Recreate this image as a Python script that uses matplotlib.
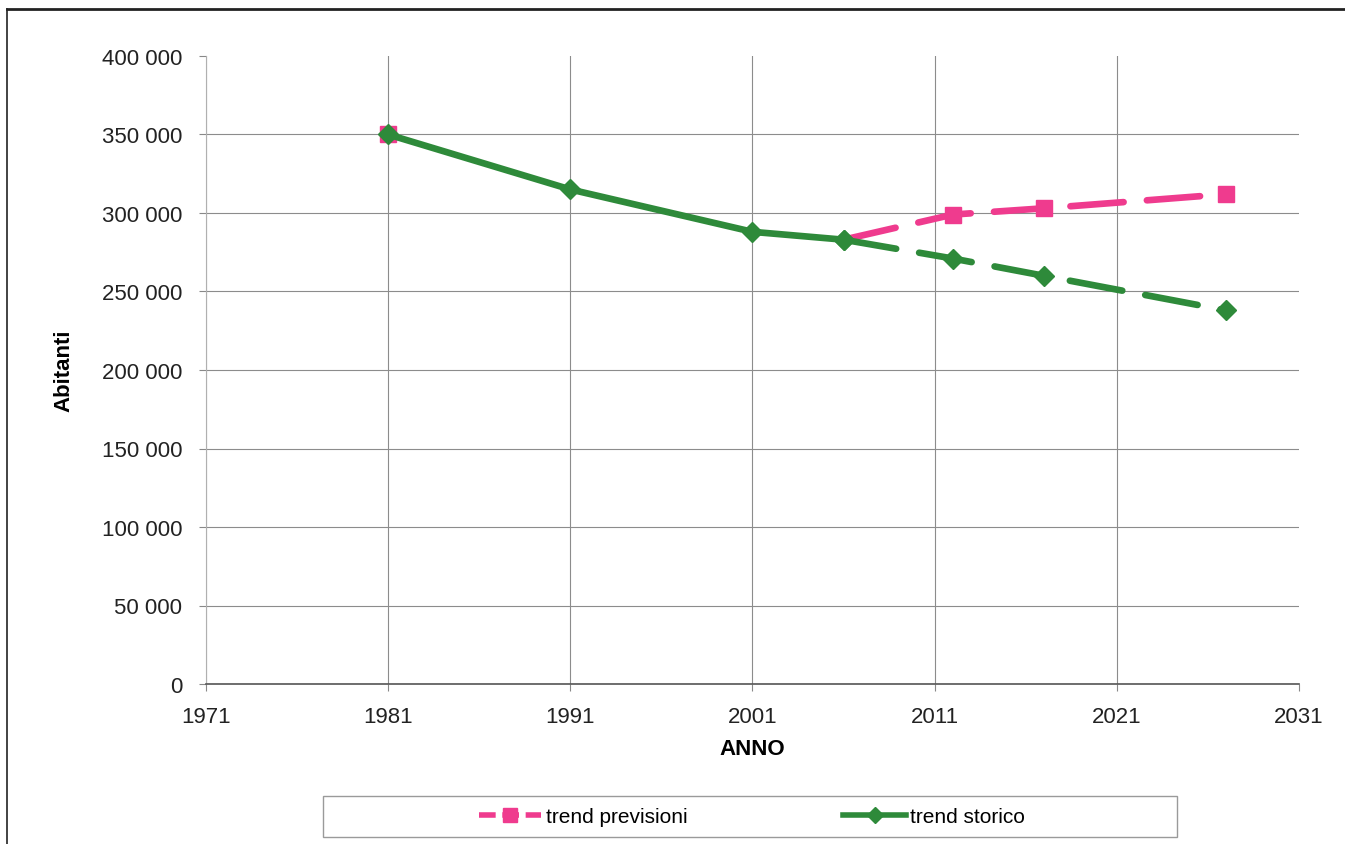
import matplotlib
matplotlib.use("Agg")
import matplotlib.pyplot as plt
from matplotlib.lines import Line2D
from matplotlib.patches import Rectangle
from matplotlib.ticker import FuncFormatter

plt.rcParams['font.family'] = ['Liberation Sans', 'DejaVu Sans']

# dati storici (linea continua)
anni_storico = [1981, 1991, 2001, 2006]
abitanti_storico = [350000, 315000, 288000, 283000]

# prosecuzione del trend storico (tratteggiata)
anni_trend = [2006, 2012, 2017, 2027]
abitanti_trend = [283000, 271000, 260000, 238000]

# trend previsioni (tratteggiata)
anni_prev = [1981, 2006, 2012, 2017, 2027]
abitanti_prev = [350000, 283000, 299000, 303000, 312000]

tick_anni = [1971, 1981, 1991, 2001, 2011, 2021, 2031]
tick_abitanti = [0, 50000, 100000, 150000, 200000, 250000, 300000, 350000,
                 400000]

ROSA = '#EF3B8E'
VERDE = '#2E8A3A'

fig = plt.figure(figsize=(13.45, 8.45), dpi=100)
ax = fig.add_axes([206 / 1345, 1 - 685 / 845, 1093 / 1345, 628 / 845])

# previsioni: punto 1981 e tratto dal 2006
ax.plot(anni_prev[:1], abitanti_prev[:1], ls='none', marker='s', ms=12,
        color=ROSA, zorder=3)
ax.plot(anni_prev[1:], abitanti_prev[1:], color=ROSA, lw=4.8,
        dashes=(8, 3.5), marker='s', ms=12, markevery=[1, 2, 3],
        dash_capstyle='round', zorder=3)

# storico
ax.plot(anni_trend, abitanti_trend, color=VERDE, lw=4.8, dashes=(8, 3.5),
        marker='D', ms=10, dash_capstyle='round', zorder=4)
ax.plot(anni_storico, abitanti_storico, color=VERDE, lw=4.8, marker='D',
        ms=10, solid_capstyle='round', zorder=5)

ax.set_xlim(1971, 2031)
ax.set_ylim(0, 400000)
ax.set_xticks(tick_anni)
ax.set_yticks(tick_abitanti)
ax.yaxis.set_major_formatter(
    FuncFormatter(lambda v, p: f"{int(v):,}".replace(',', ' ')))

ax.grid(True, color='#8c8c8c', lw=0.8)
ax.set_axisbelow(True)
fig.canvas.draw()
ax.get_ygridlines()[-1].set_visible(False)
ax.get_xgridlines()[-1].set_visible(False)

for s in ('top', 'right'):
    ax.spines[s].set_visible(False)
ax.spines['left'].set_color('#b0b0b0')
ax.spines['bottom'].set_color('#555555')
ax.spines['bottom'].set_linewidth(1.2)

ax.tick_params(axis='both', labelsize=16, colors='#222222', length=5,
               direction='out')
ax.tick_params(axis='y', pad=12, color='#888888')
ax.tick_params(axis='x', pad=11, color='#888888')

ax.set_xlabel('ANNO', fontsize=16, fontweight='bold', labelpad=8)
ax.set_ylabel('Abitanti', fontsize=16, fontweight='bold', labelpad=20)

# legenda
h_prev = Line2D([], [], color=ROSA, lw=4, dashes=(3, 1.2), marker='s', ms=10)
h_stor = Line2D([], [], color=VERDE, lw=4, marker='D', ms=8)
fig.legend([h_prev, h_stor], ['trend previsioni', 'trend storico'],
           loc='center', bbox_to_anchor=(752 / 1345, 1 - 818 / 845),
           ncol=2, frameon=False, fontsize=15, handlelength=3,
           handletextpad=0.2, columnspacing=7.5)
fig.add_artist(Rectangle((323 / 1345, 1 - 838 / 845), 854 / 1345, 41 / 845,
                         transform=fig.transFigure, fill=False,
                         edgecolor='#9a9a9a', lw=1))

# cornice esterna del grafico
fig.add_artist(Line2D([7 / 1345, 1], [1 - 10 / 845, 1 - 10 / 845],
                      transform=fig.transFigure, color='#222222', lw=2))
fig.add_artist(Line2D([7 / 1345, 7 / 1345], [0, 1 - 10 / 845],
                      transform=fig.transFigure, color='#222222', lw=1.2))

fig.savefig('out.png', dpi=100)
